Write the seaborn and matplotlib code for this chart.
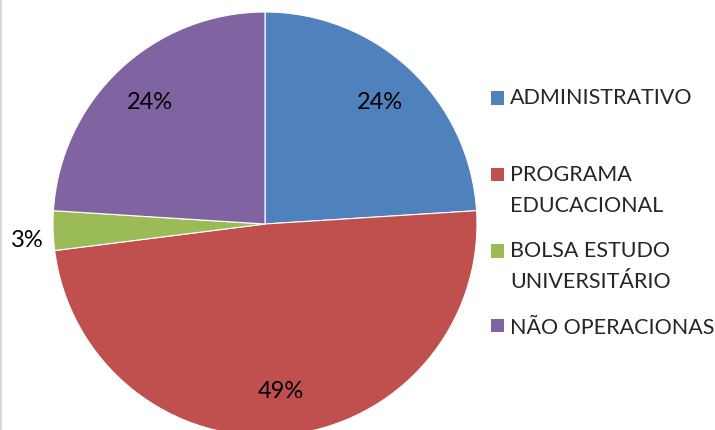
import numpy as np
import matplotlib.pyplot as plt
import seaborn as sns
from matplotlib.patches import Rectangle
from matplotlib.legend_handler import HandlerPatch
from matplotlib.lines import Line2D

# Data
categories = ['ADMINISTRATIVO', 'PROGRAMA\nEDUCACIONAL', 'BOLSA ESTUDO\nUNIVERSITÁRIO', 'NÃO OPERACIONAS']
shares = [24, 49, 3, 24]
colors = ['#4F81BD', '#C0504D', '#9BBB59', '#8064A2']

sns.set_theme(style="white")
plt.rcParams['font.family'] = ['Lato', 'DejaVu Sans']

W, H, DPI = 715, 431, 100
fig = plt.figure(figsize=(W / DPI, H / DPI), dpi=DPI)
fig.patch.set_facecolor('white')

# pie centre (265, 225) px, radius 212 px
cx, cy, r = 265, 225, 212
ax = fig.add_axes([(cx - r) / W, (H - cy - r) / H, 2 * r / W, 2 * r / H])

wedges, texts, autotexts = ax.pie(
    shares, colors=colors, startangle=90, counterclock=False,
    autopct='%1.0f%%', pctdistance=0.79,
    wedgeprops=dict(edgecolor='white', linewidth=0.8),
    textprops=dict(fontsize=17, color='black'))
ax.set_xlim(-1, 1)
ax.set_ylim(-1, 1)
ax.set_aspect('equal')

# small slice label goes outside the pie
for w, t, v in zip(wedges, autotexts, shares):
    if v < 5:
        mid = np.deg2rad((w.theta1 + w.theta2) / 2)
        t.set_position((1.12 * np.cos(mid), 1.12 * np.sin(mid) - 0.04))
        t.set_clip_on(False)

# legend: marker aligned with first line of each label
HALF_LINE_PT = 15 * 72 / DPI


def make_handler(n_extra):
    def patch_func(legend, orig_handle, xdescent, ydescent, width, height, fontsize):
        return Rectangle((-xdescent, -ydescent + n_extra * HALF_LINE_PT), width, height)
    return HandlerPatch(patch_func=patch_func)


labels = [c if '\n' in c else c + '\n' for c in categories[:-1]] + [categories[-1]]
handles = [Rectangle((0, 0), 1, 1, facecolor=c, edgecolor='none') for c in colors]
handler_map = {h: make_handler(lab.count('\n')) for h, lab in zip(handles, labels)}

leg = fig.legend(handles, labels, handler_map=handler_map,
                 loc='upper left', bbox_to_anchor=(491 / W, 1 - 88 / H),
                 frameon=False, fontsize=15.5, borderpad=0, borderaxespad=0,
                 handlelength=0.6, handleheight=0.6, handletextpad=0.3,
                 labelspacing=1.2)
for t in leg.get_texts():
    t.set_linespacing(1.68)

fig.add_artist(Line2D([0.001, 0.001], [0, 1], color='#d9d5d0', linewidth=1.5,
                      transform=fig.transFigure))

fig.savefig('out.png', dpi=DPI)
